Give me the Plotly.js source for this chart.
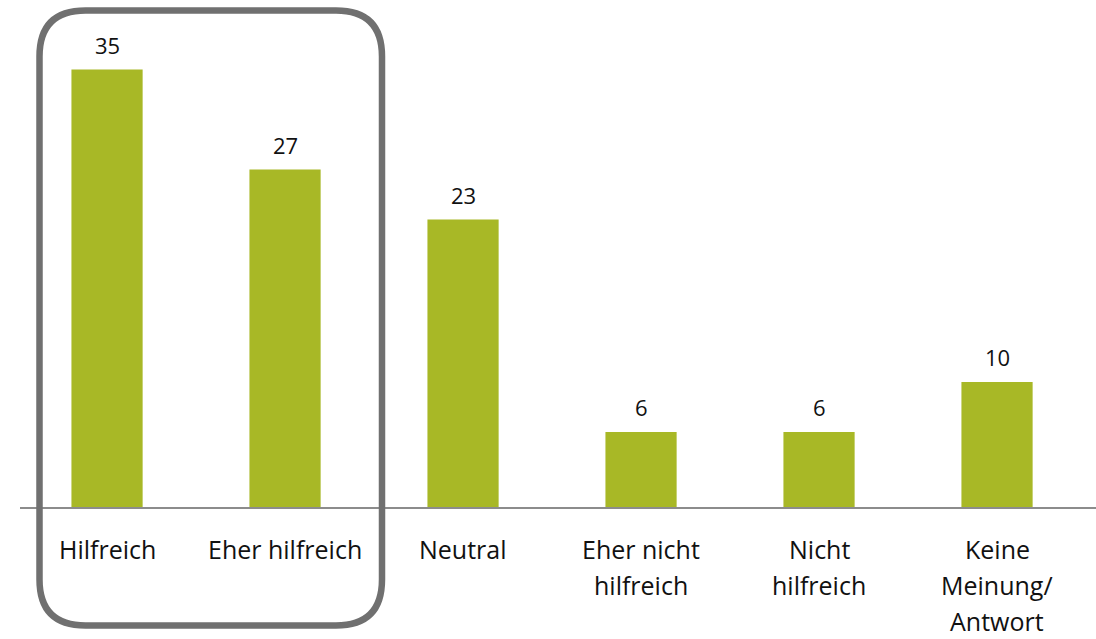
<!DOCTYPE html>
<html>
<head>
<meta charset="utf-8">
<script src="https://cdn.plot.ly/plotly-3.0.1.min.js"></script>
<style>html,body{margin:0;padding:0;background:#fff;}#chart{width:1096px;height:639px;}</style>
</head>
<body>
<div id="chart"></div>
<script>
const categories = ["Hilfreich", "Eher hilfreich", "Neutral", "Eher nicht hilfreich", "Nicht hilfreich", "Keine Meinung/ Antwort"];
const tickLines = [["Hilfreich"], ["Eher hilfreich"], ["Neutral"], ["Eher nicht", "hilfreich"], ["Nicht", "hilfreich"], ["Keine", "Meinung/", "Antwort"]];
const values = [35, 27, 23, 6, 6, 10];

const W = 1096, H = 639;
const mL = 20, mR = 0, mT = 7, mB = 132;
const pw = W - mL - mR, ph = H - mT - mB;
const px = v => (v - mL) / pw;
const py = v => (H - mB - v) / ph;

const annotations = [];
values.forEach((v, i) => {
  annotations.push({
    x: i, y: v, xref: 'x', yref: 'y', text: String(v), showarrow: false,
    yanchor: 'middle', yshift: 25,
    font: {family: 'Open Sans, sans-serif', size: 22, color: '#111111'}
  });
});
tickLines.forEach((lines, i) => {
  lines.forEach((t, j) => {
    annotations.push({
      x: i, y: 0, xref: 'x', yref: 'paper', text: t, showarrow: false,
      yanchor: 'middle', yshift: -(42 + j * 36),
      font: {family: 'Open Sans, sans-serif', size: 25, color: '#111111'}
    });
  });
});

// rounded box around the first two categories
const bl = 39.5, br = 382, bt = 10.5, bb = 625.5, r = 46;
const P = (x, y) => px(x) + ',' + py(y);
const boxPath = 'M ' + P(bl + r, bt) + ' L ' + P(br - r, bt) + ' Q ' + P(br, bt) + ' ' + P(br, bt + r) +
  ' L ' + P(br, bb - r) + ' Q ' + P(br, bb) + ' ' + P(br - r, bb) +
  ' L ' + P(bl + r, bb) + ' Q ' + P(bl, bb) + ' ' + P(bl, bb - r) +
  ' L ' + P(bl, bt + r) + ' Q ' + P(bl, bt) + ' ' + P(bl + r, bt) + ' Z';

const trace = {
  type: 'bar',
  x: categories.map((c, i) => i),
  y: values,
  width: 0.4,
  marker: {color: '#A8B826', line: {width: 0}},
  hoverinfo: 'skip'
};

const layout = {
  width: W, height: H,
  margin: {l: mL, r: mR, t: mT, b: mB, pad: 0},
  paper_bgcolor: '#ffffff', plot_bgcolor: '#ffffff',
  showlegend: false,
  xaxis: {
    range: [-0.489, 5.556], showgrid: false, zeroline: false,
    showline: true, linecolor: '#8c8c8c', linewidth: 2,
    showticklabels: false, ticks: '', fixedrange: true
  },
  yaxis: {
    range: [0, 40], showgrid: false, zeroline: false, showline: false,
    showticklabels: false, ticks: '', fixedrange: true
  },
  annotations: annotations,
  shapes: [{
    type: 'path', xref: 'paper', yref: 'paper', path: boxPath,
    line: {color: '#707070', width: 6.5}, fillcolor: 'rgba(0,0,0,0)', layer: 'above'
  }]
};

Plotly.newPlot('chart', [trace], layout, {displayModeBar: false, staticPlot: true});
</script>
</body>
</html>
